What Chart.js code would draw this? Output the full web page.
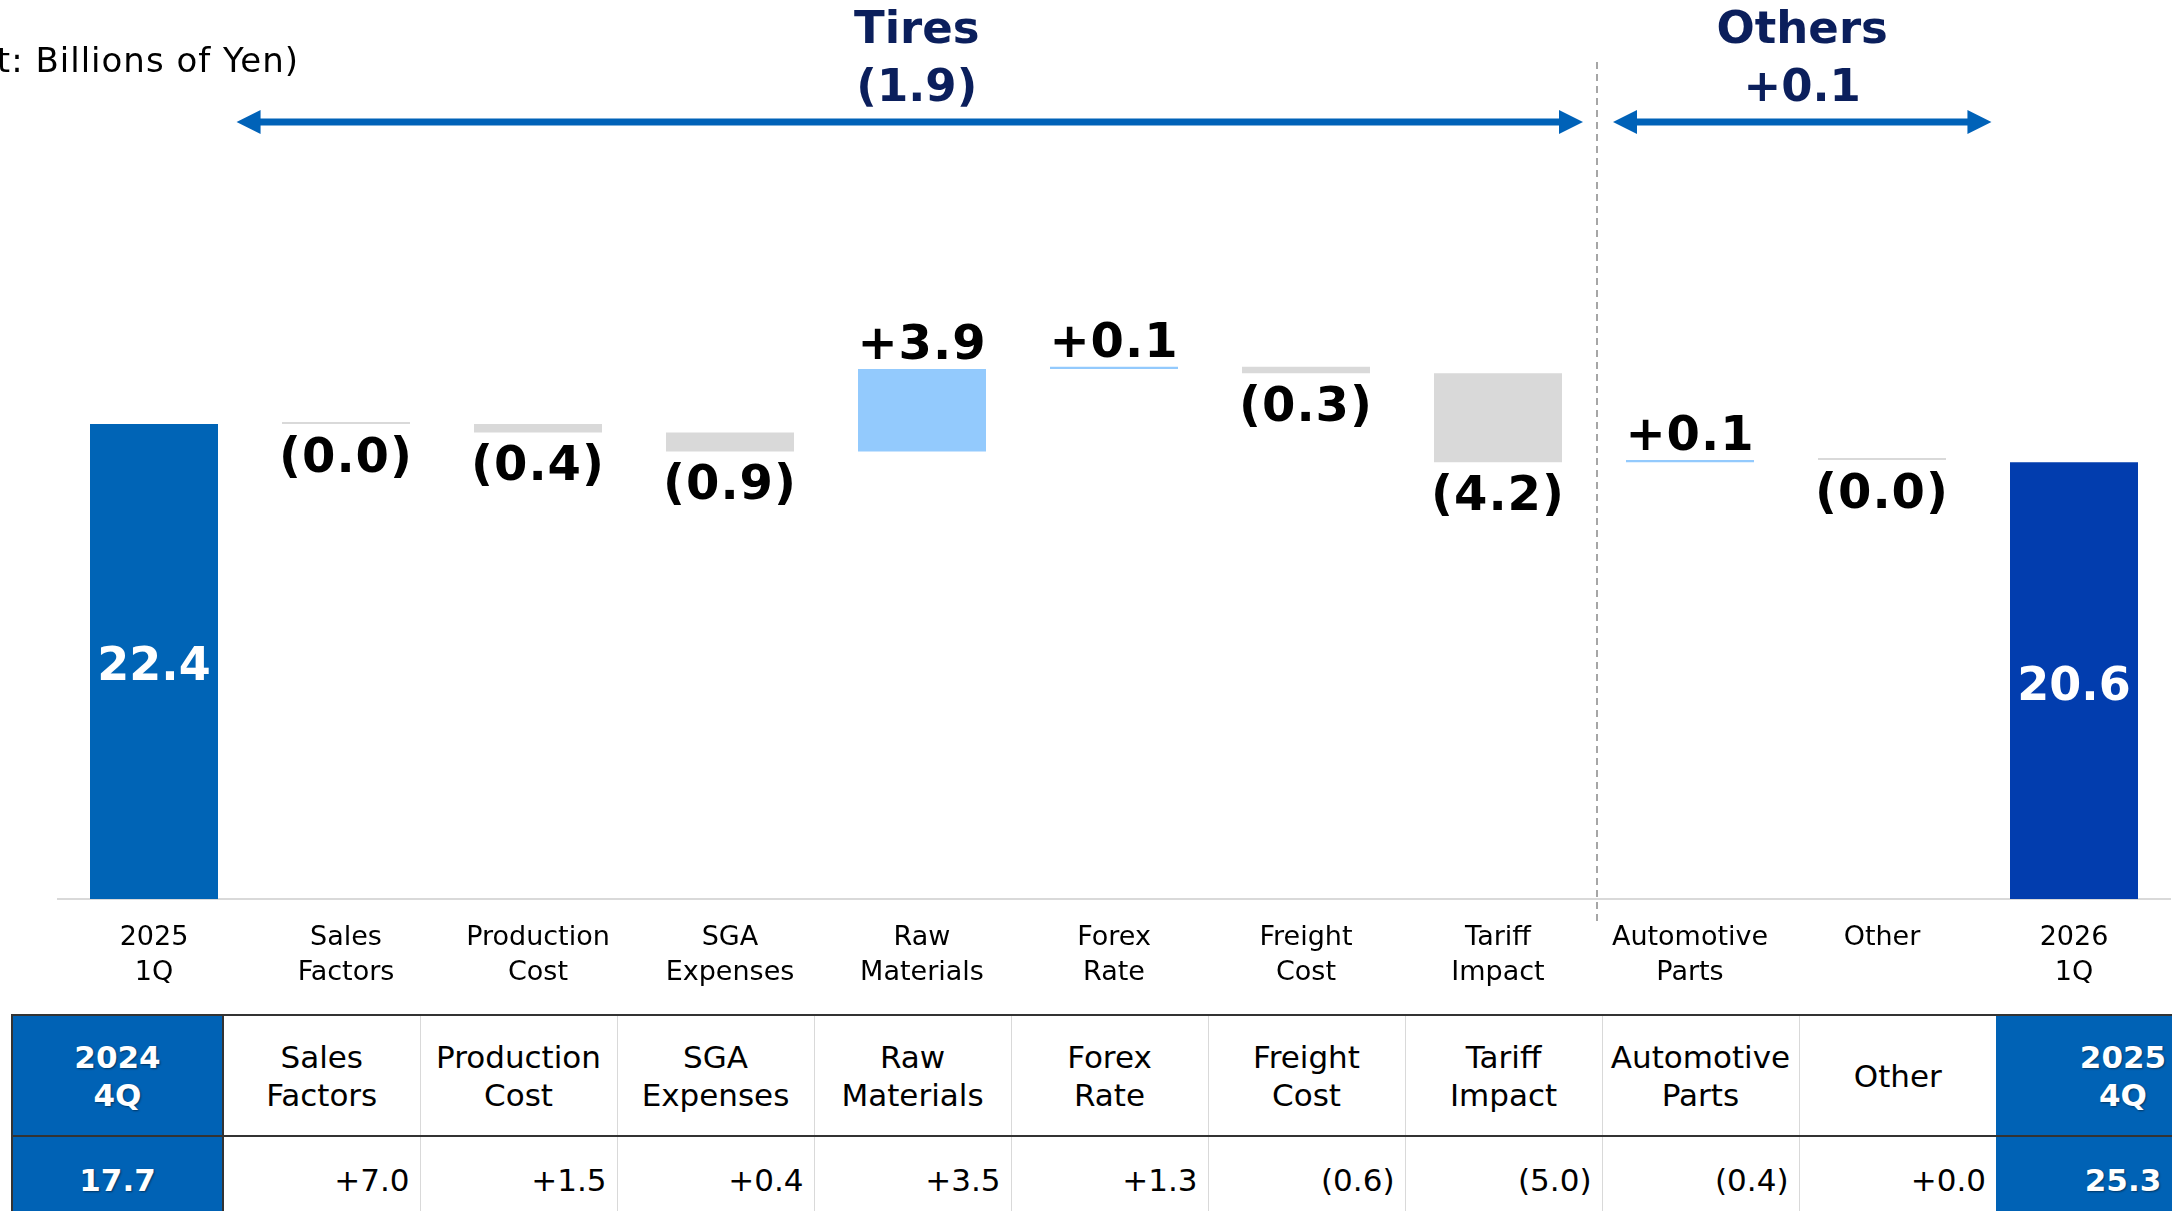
<!DOCTYPE html>
<html>
<head>
<meta charset="utf-8">
<script src="https://cdn.jsdelivr.net/npm/chart.js@4.4.1/dist/chart.umd.min.js"></script>
<style>
html,body{margin:0;padding:0;background:#fff;width:2172px;height:1211px;overflow:hidden;font-family:'DejaVu Sans',Verdana,sans-serif;}
#wrap{position:absolute;left:0;top:0;width:2172px;height:1000px;}
#tbl{position:absolute;left:11px;top:1014px;border-collapse:collapse;table-layout:fixed;font-size:31px;color:#000;}
#tbl td{padding:0;border-left:1px solid #d9d9d9;text-align:center;vertical-align:middle;white-space:nowrap;}
#tbl tr.head td{height:119px;line-height:38px;}
#tbl tr.vals td{height:85px;text-align:right;padding-right:10px;}
#tbl tr.head{border-top:2px solid #333;border-bottom:2px solid #333;}
#tbl td.blue{background:#0062B5;color:#fff;font-weight:bold;text-align:center !important;padding-right:0 !important;text-shadow:1px 1px 2px rgba(0,0,0,0.45);}
#tbl td.first{border-left:2px solid #333;}
#tbl td.afterfirst{border-left:2px solid #333;}
#tbl td.last{border-left:none;}
</style>
</head>
<body>
<div id="wrap"><canvas id="c"></canvas></div>
<table id="tbl"><colgroup id="cols"></colgroup><tbody><tr class="head" id="hrow"></tr><tr class="vals" id="vrow"></tr></tbody></table>
<script>
// ---- chart data ----
const categories = [["2025","1Q"],["Sales","Factors"],["Production","Cost"],["SGA","Expenses"],["Raw","Materials"],["Forex","Rate"],["Freight","Cost"],["Tariff","Impact"],["Automotive","Parts"],["Other"],["2026","1Q"]];
const startTotal = 22.4;
const deltas = [-0.0, -0.4, -0.9, 3.9, 0.1, -0.3, -4.2, 0.1, -0.0];
const endTotal = 20.6;
const groupNames = ["Tires", "Others"];
const groupTotals = ["(1.9)", "+0.1"];
const unitLabel = "(Unit: Billions of Yen)";
// ---- table data ----
const tableStartLabel = ["2024","4Q"];
const tableStartValue = "17.7";
const tableHeaders = [["Sales","Factors"],["Production","Cost"],["SGA","Expenses"],["Raw","Materials"],["Forex","Rate"],["Freight","Cost"],["Tariff","Impact"],["Automotive","Parts"],["Other"]];
const tableValues = ["+7.0","+1.5","+0.4","+3.5","+1.3","(0.6)","(5.0)","(0.4)","+0.0"];
const tableEndLabel = ["2025","4Q"];
const tableEndValue = "25.3";

const FONT = "'DejaVu Sans', Verdana, sans-serif";
Chart.defaults.font.family = FONT;

function fmt(v){
  const neg = v < 0 || Object.is(v, -0);
  return neg ? "(" + Math.abs(v).toFixed(1) + ")" : "+" + v.toFixed(1);
}

// floating waterfall bars
const barData = [[0, startTotal]];
let run = startTotal;
deltas.forEach(d => { const nxt = run + d; barData.push([run, nxt]); run = nxt; });
barData.push([0, endTotal]);
const colors = barData.map((b, i) => {
  if (i === 0) return '#0064B6';
  if (i === barData.length - 1) return '#023DAE';
  return deltas[i-1] > 0 ? '#93CAFD' : '#D9D9D9';
});

const labelPlugin = {
  id: 'wfLabels',
  afterDatasetsDraw(chart){
    const ctx = chart.ctx;
    const meta = chart.getDatasetMeta(0);
    const n = meta.data.length;
    meta.data.forEach((el, i) => {
      const top = Math.min(el.y, el.base), bot = Math.max(el.y, el.base);
      ctx.save();
      ctx.textAlign = 'center';
      if (i === 0 || i === n - 1) {
        ctx.font = 'bold 46px ' + FONT;
        ctx.fillStyle = '#fff';
        ctx.textBaseline = 'middle';
        ctx.fillText((i === 0 ? startTotal : endTotal).toFixed(1), el.x, (top + bot) / 2 + 7);
      } else {
        const v = deltas[i-1];
        const neg = v < 0 || Object.is(v, -0);
        ctx.font = 'bold 48px ' + FONT;
        if ('letterSpacing' in ctx) ctx.letterSpacing = '1px';
        ctx.fillStyle = '#000';
        if (neg) { ctx.textBaseline = 'middle'; ctx.fillText(fmt(v), el.x, bot + 35); }
        else { ctx.textBaseline = 'alphabetic'; ctx.fillText(fmt(v), el.x, top - 10); }
      }
      ctx.restore();
    });
  }
};

function arrow(ctx, x1, x2, y){
  const head = 24, hh = 12, th = 7;
  ctx.fillStyle = '#0062B8';
  ctx.fillRect(x1 + head - 1, y - th/2, (x2 - x1) - 2*head + 2, th);
  ctx.beginPath(); ctx.moveTo(x1, y); ctx.lineTo(x1 + head, y - hh); ctx.lineTo(x1 + head, y + hh); ctx.closePath(); ctx.fill();
  ctx.beginPath(); ctx.moveTo(x2, y); ctx.lineTo(x2 - head, y - hh); ctx.lineTo(x2 - head, y + hh); ctx.closePath(); ctx.fill();
}

const groupPlugin = {
  id: 'groups',
  afterDraw(chart){
    const ctx = chart.ctx, xs = chart.scales.x;
    const px = i => xs.getPixelForValue(i);
    const step = px(1) - px(0);
    const divX = (px(7) + px(8)) / 2 + 3;
    ctx.save();
    // divider
    ctx.strokeStyle = '#A6A6A6'; ctx.lineWidth = 2; ctx.setLineDash([7,5]);
    ctx.beginPath(); ctx.moveTo(divX, 62); ctx.lineTo(divX, 923); ctx.stroke();
    ctx.setLineDash([]);
    // arrows
    const g = [[px(1) - 0.57*step, divX - 14], [divX + 16, px(9) + 0.57*step]];
    const textShift = [7, 0];
    g.forEach((r, k) => {
      arrow(ctx, r[0], r[1], 122);
      const cx = (r[0] + r[1]) / 2 + textShift[k];
      ctx.fillStyle = '#0B1F5C';
      ctx.font = 'bold 45px ' + FONT;
      ctx.textAlign = 'center'; ctx.textBaseline = 'middle';
      ctx.fillText(groupNames[k], cx, 31);
      ctx.fillText(groupTotals[k], cx, 89);
    });
    // unit label
    ctx.fillStyle = '#000'; ctx.font = '34px ' + FONT;
    if ('letterSpacing' in ctx) ctx.letterSpacing = '1px';
    ctx.textAlign = 'right'; ctx.textBaseline = 'alphabetic';
    ctx.fillText(unitLabel, 299, 72);
    ctx.restore();
  }
};

new Chart(document.getElementById('c'), {
  type: 'bar',
  data: {
    labels: categories,
    datasets: [{ data: barData, backgroundColor: colors, borderWidth: 0, minBarLength: 2,
      barPercentage: 128/192, categoryPercentage: 1.0 }]
  },
  options: {
    responsive: true, maintainAspectRatio: false, animation: false, devicePixelRatio: 1,
    layout: { padding: { left: 58, right: 2, top: 0, bottom: 0 } },
    plugins: { legend: { display: false }, tooltip: { enabled: false } },
    scales: {
      x: {
        grid: { display: true, drawOnChartArea: false, drawTicks: false, color: 'rgba(0,0,0,0)' },
        border: { display: true, color: '#D9D9D9', width: 2 },
        ticks: { color: '#000', autoSkip: false, maxRotation: 0, padding: 21,
          font: { size: 27, lineHeight: 1.3, family: FONT } },
        afterFit: s => { s.height = 101; }
      },
      y: { display: false, min: 0, max: 42.4 }
    }
  },
  plugins: [labelPlugin, groupPlugin]
});

// ---- table ----
const cols = document.getElementById('cols');
const widths = [211].concat(tableHeaders.map(() => 197)).concat([254]);
widths.forEach(w => { const c = document.createElement('col'); c.style.width = w + 'px'; cols.appendChild(c); });
document.getElementById('tbl').style.width = widths.reduce((a,b)=>a+b,0) + 'px';
const hrow = document.getElementById('hrow'), vrow = document.getElementById('vrow');
function cell(row, html, cls){ const td = document.createElement('td'); td.innerHTML = html; if (cls) td.className = cls; row.appendChild(td); }
cell(hrow, tableStartLabel.join('<br>'), 'blue first');
cell(vrow, tableStartValue, 'blue first');
tableHeaders.forEach((h, i) => {
  cell(hrow, h.join('<br>'), i === 0 ? 'afterfirst' : '');
  cell(vrow, tableValues[i], i === 0 ? 'afterfirst' : '');
});
cell(hrow, tableEndLabel.join('<br>'), 'blue last');
cell(vrow, tableEndValue, 'blue last');
</script>
</body>
</html>
